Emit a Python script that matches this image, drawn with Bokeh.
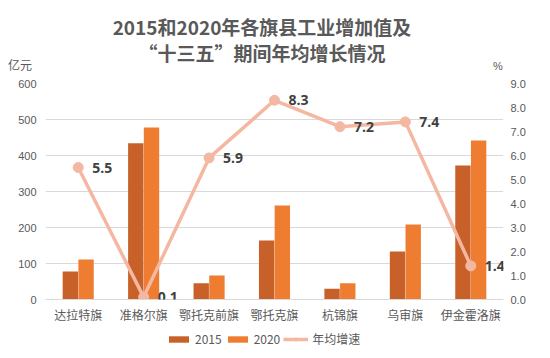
from bokeh.plotting import figure
from bokeh.layouts import column
from bokeh.models import (FactorRange, Range1d, LinearAxis, ColumnDataSource, LabelSet, Div,
                          Legend, LegendItem, FixedTicker, NumeralTickFormatter)
from bokeh.transform import dodge
from bokeh.core.properties import value
from bokeh.embed import file_html
from bokeh.resources import INLINE

categories = ["达拉特旗", "准格尔旗", "鄂托克前旗", "鄂托克旗", "杭锦旗", "乌审旗", "伊金霍洛旗"]
values_2015 = [78, 434, 45, 164, 30, 133, 372]
values_2020 = [111, 478, 67, 261, 45, 208, 442]
growth = [5.5, 0.1, 5.9, 8.3, 7.2, 7.4, 1.4]
growth_labels = ["5.5", "0.1", "5.9", "8.3", "7.2", "7.4", "1.4"]
left_ticks = [0, 100, 200, 300, 400, 500, 600]
right_ticks = [0, 1, 2, 3, 4, 5, 6, 7, 8, 9]
title_lines = ["2015和2020年各旗县工业增加值及", "“十三五”期间年均增长情况"]
left_unit = "亿元"
right_unit = "%"
series_names = ["2015", "2020", "年均增速"]

FONT = "Noto Sans CJK SC"
TXT = "#595959"
C15 = "#c8602a"
C20 = "#ef7d31"
CL = "#f4b8a2"

src = ColumnDataSource(dict(cat=categories, v15=values_2015, v20=values_2020,
                            g=growth, gl=growth_labels))

header = Div(width=550, height=73, margin=(0, 0, 0, 0), text=(
    f'<div style="position:relative;width:550px;height:73px;font-family:\'{FONT}\';color:{TXT}">'
    f'<div style="position:absolute;left:0;top:14px;width:524px;text-align:center;'
    f'font-weight:bold;font-size:19px;line-height:26px">{title_lines[0]}<br>{title_lines[1]}</div>'
    f'<div style="position:absolute;left:8px;top:57px;font-size:12px;line-height:16px">{left_unit}</div>'
    f'<div style="position:absolute;left:493px;top:59px;font-size:11px;line-height:14px;'
    f'font-family:\'Liberation Sans\'">{right_unit}</div></div>'))

p = figure(x_range=FactorRange(*categories, range_padding=0), y_range=Range1d(0, 600),
           width=550, height=252, output_backend="svg", toolbar_location=None,
           min_border_left=45, min_border_right=47, min_border_top=10, min_border_bottom=26)
p.extra_y_ranges = {"pct": Range1d(0, 9)}
p.outline_line_color = None
p.background_fill_color = "white"
p.border_fill_color = "white"

p.vbar(x=dodge("cat", -0.12, range=p.x_range), top="v15", width=0.235, source=src,
       fill_color=C15, line_color=None)
p.vbar(x=dodge("cat", 0.12, range=p.x_range), top="v20", width=0.235, source=src,
       fill_color=C20, line_color=None)
p.line(x="cat", y="g", source=src, y_range_name="pct", line_color=CL, line_width=3.5)
p.scatter(x="cat", y="g", source=src, y_range_name="pct", size=10, fill_color=CL, line_color=CL)

p.add_layout(LabelSet(x="cat", y="g", text="gl", source=src, y_range_name="pct",
                      x_offset=14, text_baseline="middle", text_font=value("Open Sans"),
                      text_font_style="bold", text_font_size="14px", text_color="#404040"))

p.yaxis.ticker = FixedTicker(ticks=left_ticks)
p.yaxis.axis_line_color = None
p.yaxis.major_tick_line_color = None
p.yaxis.minor_tick_line_color = None
p.yaxis.major_tick_out = 0
p.yaxis.minor_tick_out = 0
p.yaxis.major_label_text_font_size = "11px"
p.yaxis.major_label_text_color = TXT
p.yaxis.major_label_text_font = "Liberation Sans"
p.yaxis.major_label_standoff = 9

ra = LinearAxis(y_range_name="pct", ticker=FixedTicker(ticks=right_ticks),
                formatter=NumeralTickFormatter(format="0.0"))
ra.axis_line_color = None
ra.major_tick_line_color = None
ra.minor_tick_line_color = None
ra.major_tick_out = 0
ra.minor_tick_out = 0
ra.major_label_text_font_size = "11px"
ra.major_label_text_color = TXT
ra.major_label_text_font = "Liberation Sans"
ra.major_label_standoff = 7
p.add_layout(ra, "right")

p.xaxis.axis_line_color = "#d9d9d9"
p.xaxis.major_tick_line_color = None
p.xaxis.major_tick_out = 0
p.xaxis.major_label_text_font_size = "12px"
p.xaxis.major_label_text_color = TXT
p.xaxis.major_label_text_font = FONT
p.xaxis.major_label_standoff = 6

p.xgrid.grid_line_color = None
p.ygrid.ticker = FixedTicker(ticks=left_ticks)
p.ygrid.grid_line_color = "#d9d9d9"

# legend strip: library legend on a companion figure whose series copies are hidden
lg = figure(width=550, height=33, output_backend="svg", toolbar_location=None,
            x_range=FactorRange(*categories, range_padding=0), y_range=Range1d(0, 600),
            x_axis_type=None, y_axis_type=None, min_border=0)
lg.outline_line_color = None
lg.grid.grid_line_color = None
k15 = lg.vbar(x="cat", top="v15", width=0.2, source=src, fill_color=C15, line_color=None)
k20 = lg.vbar(x="cat", top="v20", width=0.2, source=src, fill_color=C20, line_color=None)
kl = lg.line(x="cat", y="g", source=src, line_color=CL, line_width=3.5)
kc = lg.scatter(x="cat", y="g", source=src, size=10, fill_color=CL, line_color=CL)
for r in (k15, k20, kl, kc):
    r.visible = False
legend = Legend(items=[LegendItem(label=series_names[0], renderers=[k15]),
                       LegendItem(label=series_names[1], renderers=[k20]),
                       LegendItem(label=series_names[2], renderers=[kl, kc])],
                orientation="horizontal", location=(121, 11), glyph_width=25, glyph_height=8,
                label_text_font=FONT, label_text_font_size="12px", label_text_color=TXT,
                label_standoff=4, spacing=3, padding=2, margin=0, border_line_color=None,
                background_fill_alpha=0, label_height=14, inactive_fill_alpha=0)
lg.add_layout(legend)

layout = column(header, p, lg, spacing=0)
open("out.html", "w").write(file_html(layout, INLINE))
